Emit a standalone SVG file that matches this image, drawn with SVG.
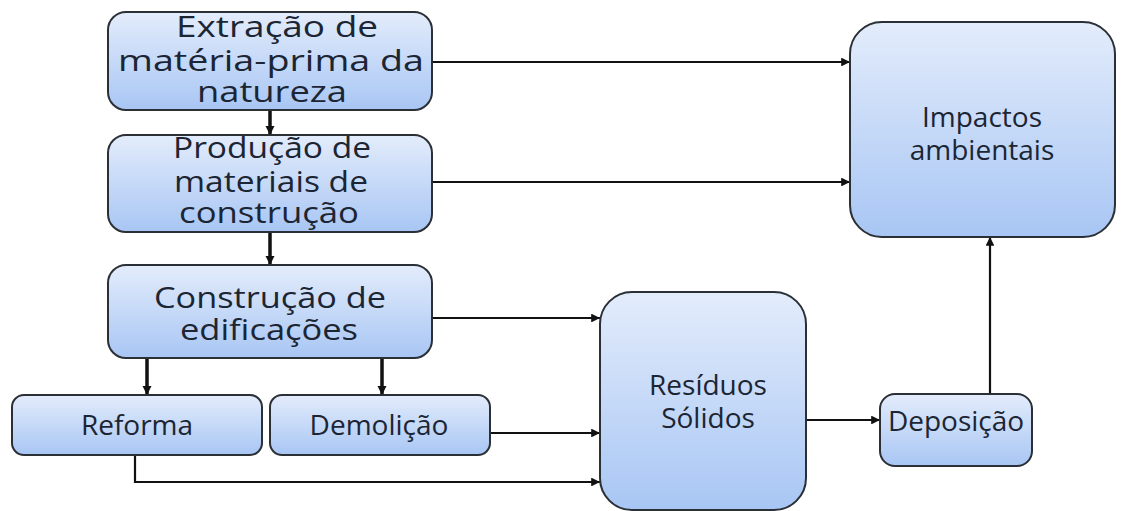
<svg xmlns="http://www.w3.org/2000/svg" width="1135" height="511" viewBox="0 0 1135 511">
<style>
.box{fill:url(#g);stroke:#2b2f36;stroke-width:2}
.t{font-family:"Open Sans","DejaVu Sans",sans-serif;font-size:30px;fill:#1c2533;text-anchor:middle}
.s{font-size:28px}
.c{fill:none;stroke:#111;stroke-width:2.2}
.d{fill:none;stroke:#111;stroke-width:3.5}
</style>
<defs>
<linearGradient id="g" x1="0" y1="0" x2="0" y2="1">
<stop offset="0" stop-color="#e3ecfb"/>
<stop offset="1" stop-color="#a8c6f4"/>
</linearGradient>
<marker id="a" viewBox="0 0 10 10" refX="10" refY="5" markerWidth="4" markerHeight="4" markerUnits="strokeWidth" orient="auto">
<path d="M0,0 L10,5 L0,10 z" fill="#111"/>
</marker>
<marker id="b" viewBox="0 0 10 10" refX="10" refY="5" markerWidth="2.6" markerHeight="2.6" markerUnits="strokeWidth" orient="auto">
<path d="M0,0 L10,5 L0,10 z" fill="#111"/>
</marker>
</defs>
<g id="connectors">
<path class="c" d="M432,62 H850" marker-end="url(#a)"/>
<path class="c" d="M432,182 H850" marker-end="url(#a)"/>
<path class="d" d="M270,110 V135" marker-end="url(#b)"/>
<path class="d" d="M270,232 V265" marker-end="url(#b)"/>
<path class="d" d="M147,358 V395" marker-end="url(#b)"/>
<path class="d" d="M382,358 V395" marker-end="url(#b)"/>
<path class="c" d="M432,318 H600" marker-end="url(#a)"/>
<path class="c" d="M490,433 H600" marker-end="url(#a)"/>
<path class="c" d="M135,455 V482 H600" marker-end="url(#a)"/>
<path class="c" d="M806,420 H880" marker-end="url(#a)"/>
<path class="c" d="M990,394 V237" marker-end="url(#a)"/>
</g>
<g id="extracao">
<rect class="box" x="108" y="12" width="324" height="98" rx="18"/>
<text class="t"><tspan x="277" y="37" textLength="202" lengthAdjust="spacingAndGlyphs">Extração de</tspan><tspan x="271" y="71" textLength="306" lengthAdjust="spacingAndGlyphs">matéria-prima da</tspan><tspan x="272" y="102" textLength="150" lengthAdjust="spacingAndGlyphs">natureza</tspan></text>
</g>
<g id="producao">
<rect class="box" x="108" y="135" width="324" height="97" rx="18"/>
<text class="t"><tspan x="272" y="158" textLength="198" lengthAdjust="spacingAndGlyphs">Produção de</tspan><tspan x="271" y="192" textLength="194" lengthAdjust="spacingAndGlyphs">materiais de</tspan><tspan x="269" y="223" textLength="180" lengthAdjust="spacingAndGlyphs">construção</tspan></text>
</g>
<g id="construcao">
<rect class="box" x="108" y="265" width="324" height="93" rx="18"/>
<text class="t"><tspan x="270" y="308" textLength="232" lengthAdjust="spacingAndGlyphs">Construção de</tspan><tspan x="269" y="340" textLength="178" lengthAdjust="spacingAndGlyphs">edificações</tspan></text>
</g>
<g id="reforma">
<rect class="box" x="12" y="395" width="250" height="60" rx="12"/>
<text class="t s" x="137" y="435">Reforma</text>
</g>
<g id="demolicao">
<rect class="box" x="270" y="395" width="220" height="60" rx="12"/>
<text class="t s" x="379" y="435">Demolição</text>
</g>
<g id="residuos">
<rect class="box" x="600" y="292" width="206" height="218" rx="32"/>
<text class="t s" x="708" y="395">Resíduos</text>
<text class="t s" x="708" y="428">Sólidos</text>
</g>
<g id="deposicao">
<rect class="box" x="880" y="394" width="152" height="72" rx="15"/>
<text class="t s" x="956" y="431">Deposição</text>
</g>
<g id="impactos">
<rect class="box" x="850" y="22" width="265" height="215" rx="32"/>
<text class="t s" x="982" y="127">Impactos</text>
<text class="t s" x="982" y="160">ambientais</text>
</g>
</svg>
